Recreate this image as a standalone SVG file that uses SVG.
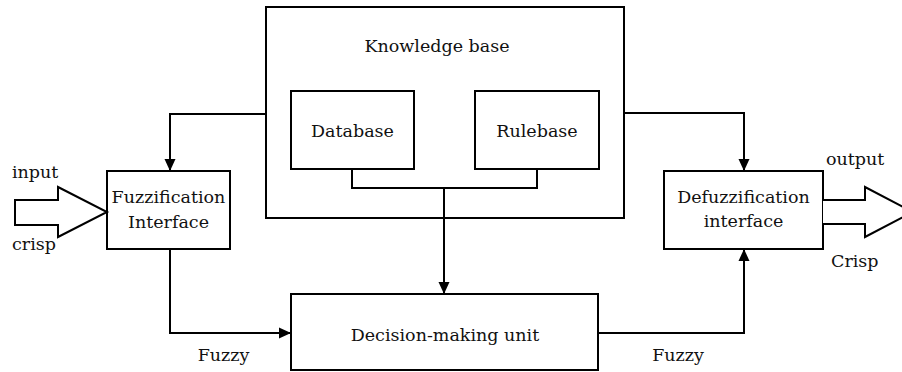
<svg xmlns="http://www.w3.org/2000/svg" width="902" height="372" viewBox="0 0 902 372">
<defs>
<style>
.box{fill:#fff;stroke:#000;stroke-width:2}
.ln{fill:none;stroke:#000;stroke-width:2}
text{font-family:'DejaVu Serif','Liberation Serif',serif;font-size:17.5px;fill:#111}
.c{text-anchor:middle}
</style>
<marker id="ah" markerWidth="12" markerHeight="12" viewBox="0 0 12 12" refX="12" refY="6" orient="auto" markerUnits="userSpaceOnUse">
<path d="M0,0.5 L12,6 L0,11.5 Z" fill="#000"/>
</marker>
</defs>
<rect width="902" height="372" fill="#fff"/>
<g id="knowledge-base">
<rect class="box" x="266" y="7" width="358" height="211"/>
<text class="c" x="437" y="52">Knowledge base</text>
</g>
<g id="database">
<rect class="box" x="291" y="91" width="123" height="78"/>
<text class="c" x="352.5" y="137">Database</text>
</g>
<g id="rulebase">
<rect class="box" x="475" y="91" width="124" height="78"/>
<text class="c" x="537" y="137">Rulebase</text>
</g>
<g id="fuzzification">
<rect class="box" x="107" y="171" width="123" height="78"/>
<text class="c" x="168.5" y="203">Fuzzification</text>
<text class="c" x="168.5" y="228">Interface</text>
</g>
<g id="defuzzification">
<rect class="box" x="664" y="171" width="159" height="78"/>
<text class="c" x="743.5" y="203">Defuzzification</text>
<text class="c" x="743.5" y="227">interface</text>
</g>
<g id="decision">
<rect class="box" x="291" y="294" width="307" height="76"/>
<text class="c" x="445" y="341">Decision-making unit</text>
</g>
<g id="connectors">
<polyline class="ln" points="266,114 170,114 170,171" marker-end="url(#ah)"/>
<polyline class="ln" points="624,113 744,113 744,171" marker-end="url(#ah)"/>
<polyline class="ln" points="352,169 352,188 537,188 537,169"/>
<line class="ln" x1="444" y1="188" x2="444" y2="294" marker-end="url(#ah)"/>
<polyline class="ln" points="170,249 170,333 291,333" marker-end="url(#ah)"/>
<polyline class="ln" points="598,333 744,333 744,249" marker-end="url(#ah)"/>
<polygon class="box" points="15,200 58,200 58,187 107,212 58,237 58,225 15,225"/>
<polygon fill="#fff" stroke="none" points="823,200 865,200 865,187 913,212 865,237 865,224 823,224"/>
<polyline class="ln" points="823,200 865,200 865,187 913,212 865,237 865,224 823,224"/>
</g>
<g id="labels">
<text x="12" y="178">input</text>
<text x="12" y="250">crisp</text>
<text x="826" y="165">output</text>
<text x="831" y="267">Crisp</text>
<text class="c" x="223.5" y="361">Fuzzy</text>
<text class="c" x="678" y="361">Fuzzy</text>
</g>
</svg>
